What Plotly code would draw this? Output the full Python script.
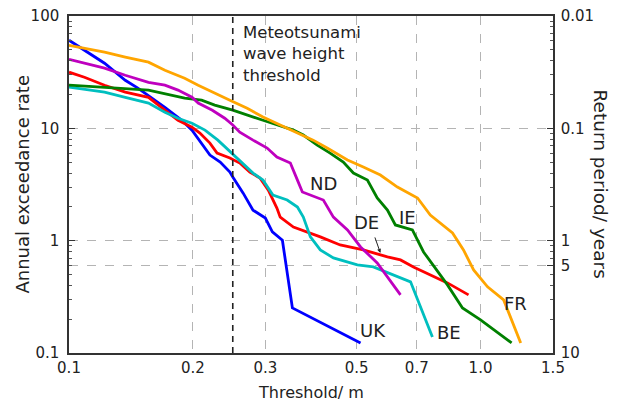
import numpy as np
import plotly.graph_objects as go

# ---- data ----
uk_x = [0.100, 0.109, 0.122, 0.137, 0.147, 0.171, 0.188, 0.199, 0.210, 0.220, 0.233, 0.246, 0.250,
        0.265, 0.280, 0.300, 0.312, 0.330, 0.349, 0.511]
uk_y = [60.8, 49.6, 38.0, 26.8, 22.8, 15.4, 11.8, 9.64, 7.39, 5.78, 5.01, 4.08, 3.68,
        2.65, 1.87, 1.59, 1.20, 1.01, 0.252, 0.123]

de_x = [0.100, 0.109, 0.122, 0.137, 0.156, 0.171, 0.184, 0.199, 0.208, 0.220, 0.229, 0.246, 0.260,
        0.275, 0.291, 0.305, 0.320, 0.326, 0.351, 0.408, 0.456, 0.519, 0.594, 0.639, 0.687, 0.831, 0.935]
de_y = [31.6, 28.5, 24.2, 21.0, 18.9, 14.5, 11.8, 10.25, 9.07, 7.39, 6.02, 5.44, 4.91,
        4.08, 3.61, 2.82, 1.95, 1.62, 1.32, 1.08, 0.916, 0.827, 0.716, 0.674, 0.584, 0.421, 0.329]

be_x = [0.100, 0.109, 0.122, 0.137, 0.156, 0.171, 0.184, 0.199, 0.214, 0.230, 0.237, 0.249, 0.265,
        0.280, 0.296, 0.313, 0.339, 0.359, 0.371, 0.386, 0.408, 0.439, 0.502, 0.549, 0.676, 0.764]
be_y = [23.3, 22.3, 21.0, 18.9, 16.8, 13.9, 12.3, 11.1, 9.64, 7.85, 7.09, 6.02, 4.91,
        4.00, 3.46, 2.55, 2.30, 1.99, 1.62, 1.08, 0.827, 0.702, 0.608, 0.584, 0.430, 0.139]

ie_x = [0.100, 0.122, 0.156, 0.191, 0.210, 0.226, 0.250, 0.296, 0.351, 0.371, 0.401, 0.431, 0.464,
        0.491, 0.531, 0.561, 0.594, 0.621, 0.683, 0.727, 0.831, 0.904, 1.000, 1.19]
ie_y = [24.2, 23.3, 21.9, 18.6, 17.8, 16.1, 14.5, 11.8, 9.64, 8.71, 7.09, 6.02, 5.01,
        4.00, 3.46, 2.40, 1.87, 1.38, 1.245, 0.793, 0.404, 0.252, 0.197, 0.123]

fr_x = [0.100, 0.109, 0.122, 0.137, 0.156, 0.171, 0.191, 0.206, 0.223, 0.246, 0.271, 0.296, 0.326,
        0.359, 0.392, 0.424, 0.475, 0.519, 0.571, 0.628, 0.703, 0.755, 0.855, 0.909, 0.962, 1.04, 1.138, 1.252]
fr_y = [54.9, 51.7, 47.6, 43.0, 38.8, 32.9, 27.9, 24.2, 21.0, 17.8, 15.1, 12.6, 10.7,
        9.07, 7.85, 6.67, 5.22, 4.52, 3.84, 3.00, 2.40, 1.69, 1.17, 0.827, 0.549, 0.388, 0.297, 0.123]

nd_x = [0.100, 0.109, 0.122, 0.137, 0.156, 0.171, 0.184, 0.199, 0.206, 0.223, 0.239, 0.250, 0.260,
        0.280, 0.303, 0.320, 0.345, 0.359, 0.369, 0.415, 0.439, 0.475, 0.511, 0.561, 0.639]
nd_y = [41.2, 38.0, 34.3, 29.7, 25.7, 24.2, 21.9, 18.9, 16.8, 14.5, 12.3, 10.7, 9.25,
        7.85, 6.67, 5.55, 4.91, 3.46, 2.71, 2.30, 1.62, 1.245, 0.879, 0.634, 0.329]

threshold = 0.25

x_ticks = [0.1, 0.2, 0.3, 0.5, 0.7, 1.0, 1.5]
x_ticktext = ["0.1", "0.2", "0.3", "0.5", "0.7", "1.0", "1.5"]
y_ticks = [0.1, 1, 10, 100]
y_ticktext = ["0.1", "1", "10", "100"]
rp_ticks = [100, 10, 1, 0.6, 0.1]
rp_ticktext = ["0.01", "0.1", "1", "5", "10"]

FONT = "DejaVu Sans"
TXT = "#222222"

series = [
    ("UK", uk_x, uk_y, "#0000ff"),
    ("DE", de_x, de_y, "#ff0000"),
    ("BE", be_x, be_y, "#00bfbf"),
    ("IE", ie_x, ie_y, "#008000"),
    ("FR", fr_x, fr_y, "#ffa500"),
    ("ND", nd_x, nd_y, "#bf00bf"),
]

fig = go.Figure()
for name, xs, ys, col in series:
    fig.add_trace(go.Scatter(x=xs, y=ys, mode="lines", name=name,
                             line=dict(color=col, width=2.8), showlegend=False))

fig.add_trace(go.Scatter(x=[threshold, threshold], y=[0.1, 100], mode="lines",
                         line=dict(color="#222222", width=1.6, dash="6px,5px"),
                         showlegend=False, hoverinfo="skip"))
# invisible trace to activate right axis
fig.add_trace(go.Scatter(x=[0.1], y=[1], yaxis="y2", mode="markers",
                         marker=dict(opacity=0), showlegend=False, hoverinfo="skip"))

minor_y = [m * 10.0 ** k for k in (-1, 0, 1) for m in range(2, 10)]

grid_col = "#b4b4b4"
fig.update_layout(
    width=617, height=403,
    margin=dict(l=69, r=64, t=16, b=50),
    paper_bgcolor="white", plot_bgcolor="white",
    font=dict(family=FONT, size=15, color=TXT),
    xaxis=dict(type="log", range=[-1, np.log10(1.5)], tickvals=x_ticks, ticktext=x_ticktext,
               showgrid=True, gridcolor=grid_col, griddash="dash", gridwidth=1,
               showline=True, linecolor="#333333", linewidth=1.5, mirror=True,
               ticks="", zeroline=False, tickfont=dict(size=15), automargin=False),
    yaxis=dict(type="log", range=[-1, 2], tickvals=y_ticks, ticktext=y_ticktext,
               showgrid=False, showline=True, linecolor="#333333", linewidth=1.5,
               ticks="inside", ticklen=6, tickcolor="#333333", ticklabelstandoff=5,
               minor=dict(tickvals=minor_y, ticks="inside", ticklen=3, tickcolor="#555555"),
               zeroline=False, tickfont=dict(size=15), automargin=False),
    yaxis2=dict(type="log", range=[-1, 2], overlaying="y", side="right",
                tickvals=rp_ticks, ticktext=rp_ticktext,
                showgrid=True, gridcolor=grid_col, griddash="dash", gridwidth=1,
                showline=True, linecolor="#333333", linewidth=1.5,
                ticks="inside", ticklen=6, tickcolor="#333333", ticklabelstandoff=3,
                minor=dict(tickvals=minor_y, ticks="inside", ticklen=3, tickcolor="#555555"),
                zeroline=False, tickfont=dict(size=15), automargin=False),
)

ann = []
ann.append(dict(xref="paper", yref="paper", x=0.5, y=-0.116, text="Threshold/ m",
                showarrow=False, font=dict(size=16), xanchor="center", yanchor="middle"))
ann.append(dict(xref="paper", yref="paper", x=-0.097, y=0.5, text="Annual exceedance rate",
                showarrow=False, font=dict(size=18), textangle=-90, xanchor="center", yanchor="middle"))
ann.append(dict(xref="paper", yref="paper", x=1.099, y=0.5, text="Return period/ years",
                showarrow=False, font=dict(size=18.5), textangle=90, xanchor="center", yanchor="middle"))
ann.append(dict(xref="x", yref="y", x=np.log10(threshold), y=2, xanchor="left", yanchor="top",
                xshift=8, yshift=-5, align="left", showarrow=False,
                text="Meteotsunami<br>wave height<br>threshold", font=dict(size=16.5)))

labels = [("ND", 0.415, 3.26), ("DE", 0.528, 1.466), ("IE", 0.664, 1.62),
          ("FR", 1.217, 0.274), ("UK", 0.549, 0.1575), ("BE", 0.836, 0.151)]
for t, lx, ly in labels:
    ann.append(dict(xref="x", yref="y", x=np.log10(lx), y=np.log10(ly), text=t,
                    showarrow=False, font=dict(size=18), xanchor="center", yanchor="middle"))
ann.append(dict(xref="x", yref="y", x=np.log10(0.571), y=np.log10(0.778), text="",
                showarrow=True, arrowhead=2, arrowsize=0.8, arrowwidth=1, arrowcolor="#222222",
                ax=-6, ay=-17))
fig.update_layout(annotations=ann)

fig.write_html("out.html", config={"displayModeBar": False},
               post_script="document.body.style.margin='0px';document.body.style.overflow='hidden';")
